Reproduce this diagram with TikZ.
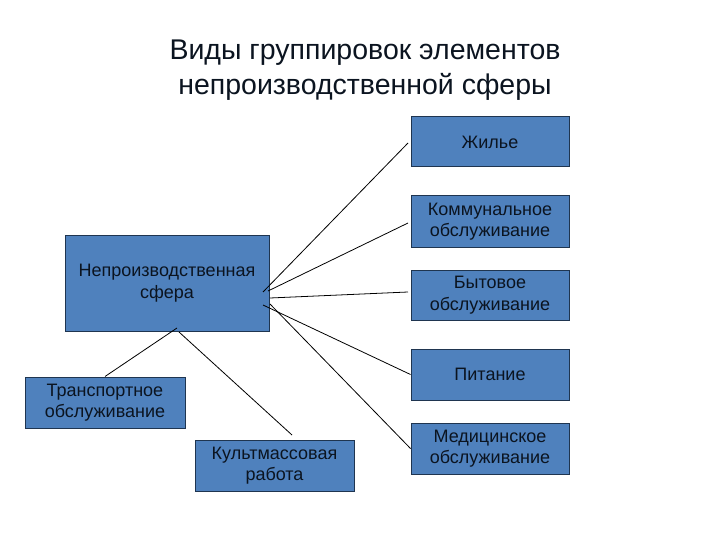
\documentclass[tikz,border=0pt]{standalone}
\usepackage{fontspec}
\setmainfont{Liberation Sans}
\definecolor{boxfill}{HTML}{4F81BD}
\definecolor{boxline}{HTML}{1F3550}
\definecolor{txt}{HTML}{0B1420}
\begin{document}
\begin{tikzpicture}[x=1pt,y=-1pt,
  box/.style={draw=boxline,line width=1pt,fill=boxfill,text=txt,align=center,
    font=\fontsize{18}{21.5}\selectfont,inner sep=0pt},
  conn/.style={draw=black,line width=0.8pt}]
\useasboundingbox (0,0) rectangle (720,540);
\fill[white] (0,0) rectangle (720,540);
\node[text=txt,align=center,font=\fontsize{28.5}{35}\selectfont] (title) at (365,70)
  {Виды группировок элементов\\непроизводственной сферы};
\node[box,minimum width=204pt,minimum height=96pt] (main) at (167,283) {Непроизводственная\\сфера};
\node[box,minimum width=158pt,minimum height=50pt] (zh) at (490,142) {Жилье};
\node[box,minimum width=158pt,minimum height=51pt] (ko) at (490,221.5) {Коммунальное\\ обслуживание};
\node[box,minimum width=158pt,minimum height=50pt] (by) at (490,295) {Бытовое\\обслуживание};
\node[box,minimum width=158pt,minimum height=51pt] (pi) at (490,374.5) {Питание};
\node[box,minimum width=158pt,minimum height=51pt] (me) at (490,448.5) {Медицинское\\обслуживание};
\node[box,minimum width=160pt,minimum height=51pt] (tr) at (105,402.5) {Транспортное\\обслуживание};
\node[box,minimum width=159pt,minimum height=51pt] (ku) at (274.5,465.5) {Культмассовая\\работа};
\coordinate (a1) at (263,292);
\coordinate (a2) at (268,291);
\coordinate (a3) at (270,298);
\coordinate (a4) at (263,305);
\coordinate (a5) at (270,304);
\coordinate (b1) at (177,328);
\coordinate (b2) at (179,332);
\coordinate (e1) at (408,143);
\coordinate (e2) at (408,223);
\coordinate (e3) at (408,292);
\coordinate (e5) at (292,435);
\draw[conn] (a1) -- (e1);
\draw[conn] (a2) -- (e2);
\draw[conn] (a3) -- (e3);
\draw[conn] (a4) -- (pi.west);
\draw[conn] (a5) -- (me.west);
\draw[conn] (b1) -- (tr.north);
\draw[conn] (b2) -- (e5);
\end{tikzpicture}
\end{document}
